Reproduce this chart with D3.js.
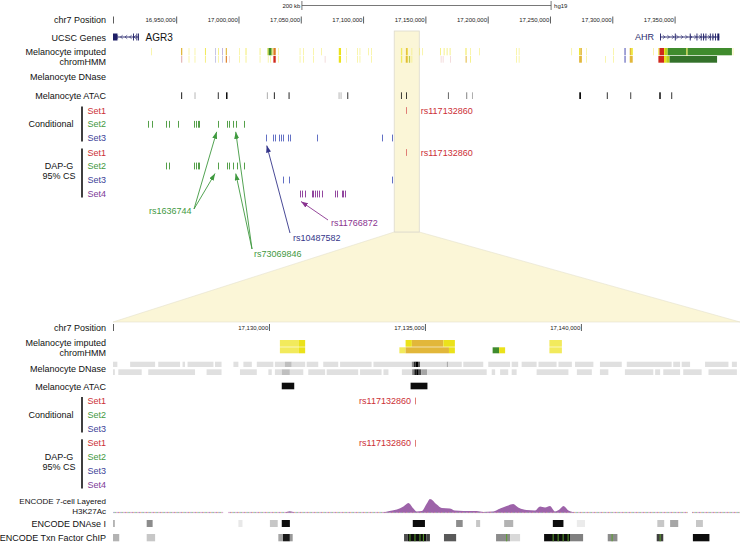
<!DOCTYPE html>
<html><head><meta charset="utf-8">
<script src="https://cdn.jsdelivr.net/npm/d3@7"></script>
<style>
body{margin:0;background:#fff;}
svg{display:block;font-family:"Liberation Sans",Arial,Helvetica,sans-serif;}
</style></head><body>
<svg id="c" width="740" height="544"></svg>
<script>
// ---------------- DATA (genomic positions in kb, hg19 chr7) ----------------
const topKb = [16899.3, 17402.5];
const zoomKb = [17125.0, 17145.1];
const topTicks = [16950000,17000000,17050000,17100000,17150000,17200000,17250000,17300000,17350000];
const zoomTicks = [17130000,17135000,17140000];
const scaleBarKb = 200;
const assembly = "hg19";

const genes = [
  {name:"AGR3", strand:"-", start:16899.3, end:16919.8,
   exons:[[16899.3,16902.9],[16915.4,16915.8],[16918.1,16918.5],[16919.4,16919.8]]},
  {name:"AHR", strand:"+", start:17338.3, end:17385.9,
   exons:[[17338.3,17338.7],[17350.2,17350.6],[17362.2,17362.6],[17367.6,17368.0],[17371.0,17371.4],
          [17372.9,17373.3],[17374.8,17375.2],[17378.3,17378.7],[17380.4,17380.8],[17382.5,17382.9],[17384.3,17385.9]]}
];

// imputed chromHMM, two rows: [start, end, state]
const hmmRow1 = [
  [16930.2,16930.6,"DNase"],[16953.9,16954.9,"EnhA"],[16960.1,16960.5,"DNase"],[16964.9,16965.3,"DNase"],
  [16973.1,16973.7,"EnhW"],[16981.5,16981.9,"Het"],[16983.9,16984.3,"EnhW"],[16986.8,16987.2,"PromBiv"],
  [16989.8,16990.7,"EnhA"],[17000.5,17000.9,"DNase"],[17005.8,17006.3,"EnhW"],[17017.1,17017.5,"EnhW"],
  [17023.3,17024.3,"TxReg"],[17024.3,17026.6,"Tx"],[17026.6,17027.3,"TxReg"],[17028.0,17029.9,"PromD"],
  [17031.8,17032.2,"DNase"],[17049.2,17049.6,"DNase"],[17051.8,17052.2,"DNase"],[17059.9,17060.3,"DNase"],
  [17066.6,17067.0,"DNase"],[17080.5,17082.3,"EnhW"],[17086.7,17087.1,"DNase"],[17095.2,17095.6,"DNase"],
  [17097.3,17097.7,"DNase"],[17104.0,17104.4,"DNase"],[17106.7,17107.1,"DNase"],
  [17130.35,17130.96,"DNase"],[17130.96,17131.16,"EnhW"],[17134.38,17134.58,"EnhW"],[17134.58,17135.59,"EnhA"],
  [17135.59,17135.96,"EnhW"],[17138.99,17139.39,"DNase"],[17145.3,17145.7,"DNase"],[17147.7,17148.1,"DNase"],
  [17162.0,17162.4,"EnhW"],[17164.8,17165.2,"EnhW"],[17167.2,17167.6,"EnhW"],[17169.6,17170.0,"EnhW"],
  [17182.3,17182.9,"EnhW"],[17186.2,17186.6,"DNase"],[17193.1,17193.5,"DNase"],[17223.1,17223.5,"DNase"],
  [17225.0,17225.4,"DNase"],[17267.3,17267.7,"DNase"],[17273.4,17274.4,"EnhW"],[17274.4,17275.6,"EnhA"],
  [17279.3,17279.7,"DNase"],[17300.6,17301.0,"DNase"],[17309.6,17310.9,"Het"],[17314.0,17315.2,"EnhA"],
  [17315.2,17316.4,"EnhW"],[17332.8,17333.2,"DNase"],[17337.0,17337.9,"EnhW"],[17337.9,17341.5,"TssA"],
  [17341.5,17342.3,"EnhW"],[17342.3,17344.5,"TxReg"],[17344.5,17359.6,"Tx"],[17359.6,17360.4,"EnhW"],
  [17360.4,17396.0,"Tx"],[17396.7,17397.1,"DNase"]
];
const hmmRow2 = [
  [16953.9,16954.9,"PromP"],[16960.1,16960.5,"DNase"],[16964.9,16965.3,"DNase"],[16973.1,16973.7,"DNase"],
  [16981.5,16981.9,"Het"],[16983.9,16984.3,"DNase"],[16986.8,16987.2,"Het"],[16989.8,16990.7,"PromD"],
  [16992.4,16992.8,"PromP"],[17000.5,17000.9,"DNase"],[17005.8,17006.3,"DNase"],[17017.1,17017.5,"DNase"],
  [17023.6,17024.0,"DNase"],[17025.5,17025.9,"DNase"],[17028.0,17029.9,"TssA"],[17031.8,17032.2,"DNase"],
  [17049.2,17049.6,"DNase"],[17051.8,17052.2,"DNase"],[17059.9,17060.3,"DNase"],[17069.3,17069.7,"PromP"],
  [17080.5,17082.3,"EnhW"],[17086.7,17087.1,"DNase"],[17095.2,17095.6,"DNase"],[17097.3,17097.7,"DNase"],
  [17106.7,17107.1,"DNase"],
  [17130.35,17130.96,"DNase"],[17130.96,17131.16,"EnhW"],[17134.18,17134.38,"DNase"],[17134.38,17135.77,"EnhA"],
  [17135.77,17135.96,"EnhW"],[17137.17,17137.38,"Tx"],[17137.38,17137.57,"EnhW"],[17138.99,17139.39,"DNase"],
  [17162.4,17162.8,"PromP"],[17164.0,17164.4,"PromP"],[17169.8,17170.2,"PromP"],[17182.3,17183.1,"EnhA"],
  [17186.2,17186.6,"EnhW"],[17223.1,17223.5,"DNase"],[17225.0,17225.4,"DNase"],[17273.4,17275.6,"EnhA"],
  [17279.3,17279.7,"DNase"],[17294.5,17294.9,"DNase"],[17300.6,17301.0,"DNase"],[17309.6,17310.9,"Het"],
  [17314.0,17316.4,"EnhA"],[17337.0,17341.5,"TssA"],[17341.5,17343.3,"EnhW"],[17343.3,17346.0,"TxReg"],
  [17346.0,17384.1,"TxWk"]
];

// Melanocyte ATAC peaks: [start, end, score]
const atac = [
  [16954.0,16954.8,900],[16964.8,16965.4,350],[16983.4,16984.2,800],[16990.0,16991.2,950],[17022.8,17023.4,400],
  [17028.4,17029.2,850],[17040.2,17041.0,850],[17080.4,17081.0,350],[17082.0,17082.6,350],[17087.3,17088.1,800],
  [17130.41,17130.81,950],[17134.54,17135.08,950],[17168.1,17168.7,750],[17182.9,17183.5,600],[17187.4,17188.0,400],
  [17273.5,17274.9,950],[17295.6,17296.4,800],[17314.4,17315.2,750],[17337.7,17338.9,950],[17347.3,17348.1,800]
];

// Melanocyte DNase (zoom view), two rows: [start, end, score]
const dnaseRow1 = [
  [17125.00,17125.14,120],[17125.55,17126.35,120],[17126.45,17127.15,120],[17127.23,17127.31,120],[17127.39,17128.22,120],
  [17128.27,17128.48,120],[17128.86,17129.02,120],[17129.18,17129.45,120],[17129.61,17130.14,120],[17130.19,17130.51,120],
  [17130.51,17130.73,250],[17130.73,17131.16,120],[17131.21,17131.58,120],[17131.74,17132.22,120],[17132.28,17133.29,120],
  [17133.35,17134.58,120],[17134.58,17134.64,450],[17134.64,17134.70,850],[17134.70,17134.78,1000],[17134.78,17134.84,700],
  [17134.84,17135.70,120],[17135.70,17135.75,330],[17135.75,17136.18,120],[17136.23,17136.87,120],[17137.03,17137.73,120],
  [17137.78,17137.99,120],[17138.10,17138.58,120],[17138.64,17139.22,120],[17139.28,17139.71,120],[17139.81,17140.40,120],
  [17140.61,17141.31,120],[17141.47,17142.91,120],[17142.96,17143.18,120],[17143.23,17143.50,120],[17143.98,17144.73,120],
  [17144.84,17145.00,120]
];
const dnaseRow2 = [
  [17125.00,17125.06,120],[17125.17,17125.92,120],[17126.13,17127.63,120],[17128.00,17128.48,120],[17129.07,17129.61,120],
  [17129.98,17130.09,120],[17130.19,17130.41,120],[17130.41,17130.67,250],[17130.67,17131.10,120],[17131.26,17131.80,120],
  [17131.85,17132.86,120],[17132.92,17133.61,120],[17133.67,17133.83,120],[17134.26,17134.59,120],[17134.59,17134.66,500],
  [17134.66,17134.74,900],[17134.74,17134.80,1000],[17134.80,17134.88,700],[17134.88,17135.07,350],[17135.07,17136.98,120],
  [17137.14,17137.25,120],[17137.41,17137.67,120],[17137.78,17137.94,120],[17138.58,17139.60,120],[17139.87,17140.35,120],
  [17140.61,17140.88,120],[17141.41,17142.32,120],[17142.38,17142.54,120],[17142.64,17143.18,120],[17143.28,17143.87,120],
  [17144.09,17145.00,120]
];

// credible-set SNPs (kb)
const leadSnp = "rs117132860";
const leadSnpKb = 17134.68;
const setNames = ["Set1","Set2","Set3","Set4"];
const condSets = [
  [17134.68],
  [16927.1,16930.4,16941.6,16944.3,16951.7,16964.3,16965.9,16967.5,16968.7,16983.3,16990.6,16992.6,16995.4,16998.0,17004.4],
  [17021.8,17028.0,17029.6,17032.3,17033.9,17035.5,17040.0,17041.4,17062.8,17115.4,17123.5]
];
const dapSets = [
  [17134.68],
  [16941.6,16944.3,16964.3,16965.9,16967.5,16968.7,16983.3,16990.6,16992.6,16995.9,16998.6,17004.4],
  [17035.5,17040.8,17123.5],
  [17049.4,17051.2,17053.4,17058.8,17060.1,17061.4,17063.0,17064.4,17066.8,17077.5,17079.3,17082.9,17084.1,17085.5]
];
const annotations = [
  {snp:"rs1636744", set:1, targets:[["cond",16982.5],["dap",16981.2]]},
  {snp:"rs73069846", set:1, targets:[["cond",16997.8],["dap",16997.8]]},
  {snp:"rs10487582", set:2, targets:[["cond",17022.7]]},
  {snp:"rs11766872", set:3, targets:[["dap",17050.2]]}
];

// ENCODE H3K27Ac signal: [kb, value]
const h3k27ac = [
  [17130.51,0],[17130.67,1.2],[17130.83,0],
  [17133.60,0],[17133.77,0.8],[17133.95,2],[17134.10,3],[17134.31,6],[17134.47,9.5],[17134.63,4],[17134.74,1],
  [17134.90,1.5],[17135.06,9],[17135.16,13.5],[17135.38,8],[17135.54,4.5],[17135.80,4],[17135.96,2],[17136.23,1.5],
  [17136.66,1.5],[17136.87,0.5],[17137.19,1],[17137.41,4],[17137.62,6.5],[17137.83,8.5],[17137.99,5],[17138.26,2.5],
  [17138.53,2],[17138.69,6],[17138.85,5],[17139.01,6.5],[17139.17,1],[17139.31,3],[17139.44,6.5],[17139.60,2],[17139.81,0]
];
const h3Gaps = [[17128.53,17128.69],[17143.43,17143.56]];

// ENCODE DNase I clusters and TF ChIP clusters: [start, end, score]
const encDnase = [
  [17125.00,17125.06,300],[17126.08,17126.27,450],[17129.02,17129.15,90],[17130.03,17130.28,220],[17130.41,17130.67,950],
  [17134.61,17135.00,950],[17136.00,17136.21,450],[17136.64,17136.77,220],[17137.54,17137.83,300],[17139.10,17139.44,950],
  [17139.87,17140.13,80],[17142.45,17142.67,220],[17142.86,17143.12,350],[17143.69,17143.91,220]
];
const tfChip = [
  [17125.00,17125.20,300],[17126.08,17126.35,220],[17130.30,17130.45,350],[17130.45,17130.67,900],[17130.67,17130.76,400],
  [17134.33,17134.45,700],[17134.45,17135.05,950],[17135.05,17135.16,750],[17135.61,17136.00,650],[17137.28,17137.73,450],
  [17137.73,17138.05,150],[17138.82,17139.65,950],[17139.65,17140.07,500],[17140.86,17141.17,450],[17142.43,17142.64,750],
  [17143.59,17144.12,950]
];
const tfHighlight = [17134.52,17134.68,17134.84,17134.95,17137.62,17139.11,17139.27,17139.43,17139.59,17141.00,17142.54];

// ---------------- STYLE / LAYOUT ----------------
const F = '"Liberation Sans", Arial, Helvetica, sans-serif';
const X0 = 113, X1 = 740, LABX = 106;
const stateColor = {TssA:"#d0281c", PromD:"#dc7a20", PromP:"#e6b9b9", PromBiv:"#8a6fc0", Tx:"#3f8b2d", TxWk:"#33712a",
  TxReg:"#bcd21e", EnhA:"#e2b73a", EnhW:"#ebe21a", DNase:"#f2ea5c", Het:"#8e90cf"};
const setLabelColor = ["#cc2f36","#3f993f","#3d3f98","#7d3a98"];
const setTickColor = ["#e07e76","#55a04a","#6270c4","#93479f"];
const annColor = ["#cc2f36","#3f993f","#34358a","#8a3490"];
const annLayout = {
  rs1636744:{tx:149, ty:211, fx:194, fy:209},
  rs73069846:{tx:254, ty:254, fx:252, fy:249},
  rs10487582:{tx:293, ty:238, fx:290, fy:233},
  rs11766872:{tx:331, ty:223, fx:328, fy:220}
};
const grey = d3.scaleLinear().domain([0,1000]).range(["#ffffff","#000000"]);

const svg = d3.select("#c");
const xT = d3.scaleLinear().domain(topKb).range([X0,X1]);
const xZ = d3.scaleLinear().domain(zoomKb).range([X0,X1]);

function lab(t, x, y, o={}) {
  return svg.append("text").attr("x",x).attr("y",y).attr("dy","0.35em")
    .attr("text-anchor",o.anchor||"end").attr("font-size",o.size||9).attr("font-family",F)
    .attr("fill",o.fill||"#111").text(t);
}

// ---------- highlight / zoom connector ----------
const h0 = xT(zoomKb[0]), h1 = xT(zoomKb[1]);
svg.append("polygon").attr("points",[[h0,232],[h1,232],[X1,322],[X0,322]].map(p=>p.join(",")).join(" "))
  .attr("fill","#fbf6d7").attr("stroke","#e4e0cc").attr("stroke-width",0.6);
svg.append("rect").attr("x",h0).attr("y",31).attr("width",h1-h0).attr("height",201)
  .attr("fill","#fbf6d7").attr("stroke","#dcd9cc").attr("stroke-width",0.8);

// ---------- scale bar ----------
const mid = (topKb[0]+topKb[1])/2;
const sb0 = xT(mid-scaleBarKb/2), sb1 = xT(mid+scaleBarKb/2);
svg.append("line").attr("x1",sb0).attr("x2",sb1).attr("y1",5.5).attr("y2",5.5).attr("stroke","#555").attr("stroke-width",0.8);
[sb0,sb1].forEach(x=>svg.append("line").attr("x1",x).attr("x2",x).attr("y1",1).attr("y2",10).attr("stroke","#555").attr("stroke-width",0.8));
lab(scaleBarKb+" kb", sb0-1.5, 5.5, {size:6, fill:"#222"});
lab(assembly, sb1+3, 5.5, {size:6, anchor:"start", fill:"#222"});

// ---------- axes ----------
function posAxis(scaleKb, ticks, y) {
  const s = d3.scaleLinear().domain(scaleKb.domain().map(k=>k*1000)).range(scaleKb.range());
  const g = svg.append("g").attr("transform",`translate(0,${y-3.5})`)
    .call(d3.axisBottom(s).tickValues(ticks).tickFormat(d3.format(",")).tickSize(7).tickSizeOuter(0));
  g.select(".domain").remove();
  g.selectAll(".tick line").attr("stroke","#333").attr("stroke-width",0.8);
  g.selectAll(".tick text").attr("y",3.5).attr("dy","0.35em").attr("x",-1.2).attr("text-anchor","end")
    .attr("font-size",6).attr("font-family",F).attr("fill","#222");
  svg.append("line").attr("x1",X0+0.5).attr("x2",X0+0.5).attr("y1",y-3.5).attr("y2",y+3.5).attr("stroke","#333").attr("stroke-width",0.8);
  lab("chr7 Position", LABX, y);
}
posAxis(xT, topTicks, 20);
posAxis(xZ, zoomTicks, 327.5);

// ---------- genes ----------
lab("UCSC Genes", LABX, 37.5);
const geneStyle = {AGR3:{fill:"#111", size:10}, AHR:{fill:"#2b2b6e", size:9}};
genes.forEach(g => {
  const y = 37, col = "#1e1e66";
  const a = xT(Math.max(g.start, topKb[0])), b = xT(Math.min(g.end, topKb[1]));
  svg.append("line").attr("x1",a).attr("x2",b).attr("y1",y).attr("y2",y).attr("stroke",col).attr("stroke-width",0.9);
  for (let x = a+4; x < b-3; x += 4.5) {
    const d = g.strand === "+" ? `M${x-1.2},${y-1.8}L${x+1},${y}L${x-1.2},${y+1.8}` : `M${x+1.2},${y-1.8}L${x-1},${y}L${x+1.2},${y+1.8}`;
    svg.append("path").attr("d",d).attr("fill","none").attr("stroke",col).attr("stroke-width",0.6);
  }
  g.exons.forEach(e => {
    const xa = xT(e[0]), w = Math.max(0.9, xT(e[1])-xa);
    svg.append("rect").attr("x",xa).attr("y",y-3.5).attr("width",w).attr("height",7).attr("fill",col);
  });
  const st = geneStyle[g.name];
  if (g.start <= topKb[0]) lab(g.name, b+7, y, {anchor:"start", fill:st.fill, size:st.size});
  else lab(g.name, a-6, y, {fill:st.fill, size:st.size});
});

// ---------- block tracks ----------
function blocks(data, scale, y0, y1, colorFn, minW=0.5) {
  const dom = scale.domain();
  data.filter(d => d[1] > dom[0] && d[0] < dom[1]).forEach(d => {
    const a = scale(Math.max(d[0],dom[0])), b = scale(Math.min(d[1],dom[1]));
    svg.append("rect").attr("x",a).attr("y",y0).attr("width",Math.max(minW,b-a)).attr("height",y1-y0).attr("fill",colorFn(d[2]));
  });
}
// top panel
lab("Melanocyte imputed", LABX, 51.7); lab("chromHMM", LABX, 61.7);
blocks(hmmRow1, xT, 48, 55.3, s=>stateColor[s]);
blocks(hmmRow2, xT, 56, 62.7, s=>stateColor[s]);
lab("Melanocyte DNase", LABX, 77.3);
lab("Melanocyte ATAC", LABX, 95.5);
blocks(atac, xT, 92.3, 99, grey, 0.8);
// zoom panel
lab("Melanocyte imputed", LABX, 343.3); lab("chromHMM", LABX, 353.3);
blocks(hmmRow1, xZ, 340, 346.7, s=>stateColor[s]);
blocks(hmmRow2, xZ, 347.3, 353.3, s=>stateColor[s]);
lab("Melanocyte DNase", LABX, 369);
blocks(dnaseRow1, xZ, 361.7, 367, grey);
blocks(dnaseRow2, xZ, 369.3, 375, grey);
lab("Melanocyte ATAC", LABX, 386.5);
blocks(atac, xZ, 382.7, 389.3, grey);

// ---------- credible sets ----------
function setGroups(scale, condRows, dapRows, leadLabel) {
  const dom = scale.domain();
  const groups = [["Conditional", condSets, condRows], ["DAP-G", dapSets, dapRows]];
  groups.forEach(([name, sets, rows], gi) => {
    svg.append("rect").attr("x",81.2).attr("y",rows[0]-4).attr("width",1.6).attr("height",rows[rows.length-1]-rows[0]+7.5).attr("fill","#111");
    if (gi === 0) lab(name, 73.5, rows[1]);
    else { lab("DAP-G", 59, rows[1]-0.3, {anchor:"middle"}); lab("95% CS", 59, rows[1]+10, {anchor:"middle"}); }
    sets.forEach((snps, i) => {
      lab(setNames[i], LABX, rows[i], {fill:setLabelColor[i]});
      snps.filter(k => k >= dom[0] && k <= dom[1]).forEach(k => {
        const x = Math.round(scale(k)) + 0.5;
        svg.append("line").attr("x1",x).attr("x2",x).attr("y1",rows[i]-3.4).attr("y2",rows[i]+3.4)
          .attr("stroke",setTickColor[i]).attr("stroke-width",1);
      });
      if (i === 0) {
        const x = scale(leadSnpKb);
        if (leadLabel === "right") lab(leadSnp, x+14.5, rows[i], {anchor:"start", fill:setLabelColor[0]});
        else lab(leadSnp, x-4, rows[i], {fill:setLabelColor[0]});
      }
    });
  });
}
const condTop = [110.5,124.3,138], dapTop = [152.5,166,180,194];
setGroups(xT, condTop, dapTop, "right");
setGroups(xZ, [401,415,429], [443.3,457.3,471,485], "left");

// ---------- annotation arrows ----------
const defs = svg.append("defs");
annColor.forEach((c,i) => {
  defs.append("marker").attr("id","ah"+i).attr("markerUnits","userSpaceOnUse").attr("markerWidth",7).attr("markerHeight",5)
    .attr("refX",7).attr("refY",2.5).attr("orient","auto")
    .append("path").attr("d","M0,0L7,2.5L0,5Z").attr("fill",c);
});
annotations.forEach(a => {
  const L = annLayout[a.snp], c = annColor[a.set];
  a.targets.forEach(([grp, kb]) => {
    const rowY = (grp === "cond" ? condTop : dapTop)[a.set];
    svg.append("line").attr("x1",L.fx).attr("y1",L.fy).attr("x2",xT(kb)).attr("y2",rowY+7.5)
      .attr("stroke",c).attr("stroke-width",0.9).attr("marker-end",`url(#ah${a.set})`);
  });
  lab(a.snp, L.tx, L.ty, {anchor:"start", fill:c});
});

// ---------- ENCODE H3K27Ac ----------
lab("ENCODE 7-cell Layered", LABX, 500.7, {size:8});
lab("H3K27Ac", LABX, 511, {size:8});
const yH = d3.scaleLinear().domain([0,15]).range([512.5,497.5]);
const pat = defs.append("pattern").attr("id","bl").attr("patternUnits","userSpaceOnUse").attr("width",7).attr("height",2);
["#e8a35c","#6f78c8","#7fbf6a","#d27fb6","#9b6ab2"].forEach((c,i)=>pat.append("rect").attr("x",i*1.4).attr("y",0).attr("width",1.4).attr("height",2).attr("fill",c));
const base = [zoomKb[0]].concat(...h3Gaps).concat([zoomKb[1]]);
for (let i = 0; i < base.length; i += 2) {
  svg.append("rect").attr("x",xZ(base[i])).attr("y",yH(0)-0.6).attr("width",xZ(base[i+1])-xZ(base[i])).attr("height",1.2)
    .attr("fill","url(#bl)").attr("opacity",0.75);
}
svg.append("path").datum(h3k27ac)
  .attr("d", d3.area().x(d=>xZ(d[0])).y0(yH(0)).y1(d=>yH(d[1])).curve(d3.curveMonotoneX))
  .attr("fill","#9d63a9");

// ---------- ENCODE DNase / TF ----------
lab("ENCODE DNAse I", LABX, 523.5);
blocks(encDnase, xZ, 520, 527, grey);
lab("ENCODE Txn Factor ChIP", LABX, 537.7);
blocks(tfChip, xZ, 534, 541.3, grey);
tfHighlight.forEach(k => {
  svg.append("rect").attr("x",xZ(k)-0.5).attr("y",534).attr("width",1).attr("height",7.3).attr("fill","#5aa02c");
});
</script>
</body></html>
